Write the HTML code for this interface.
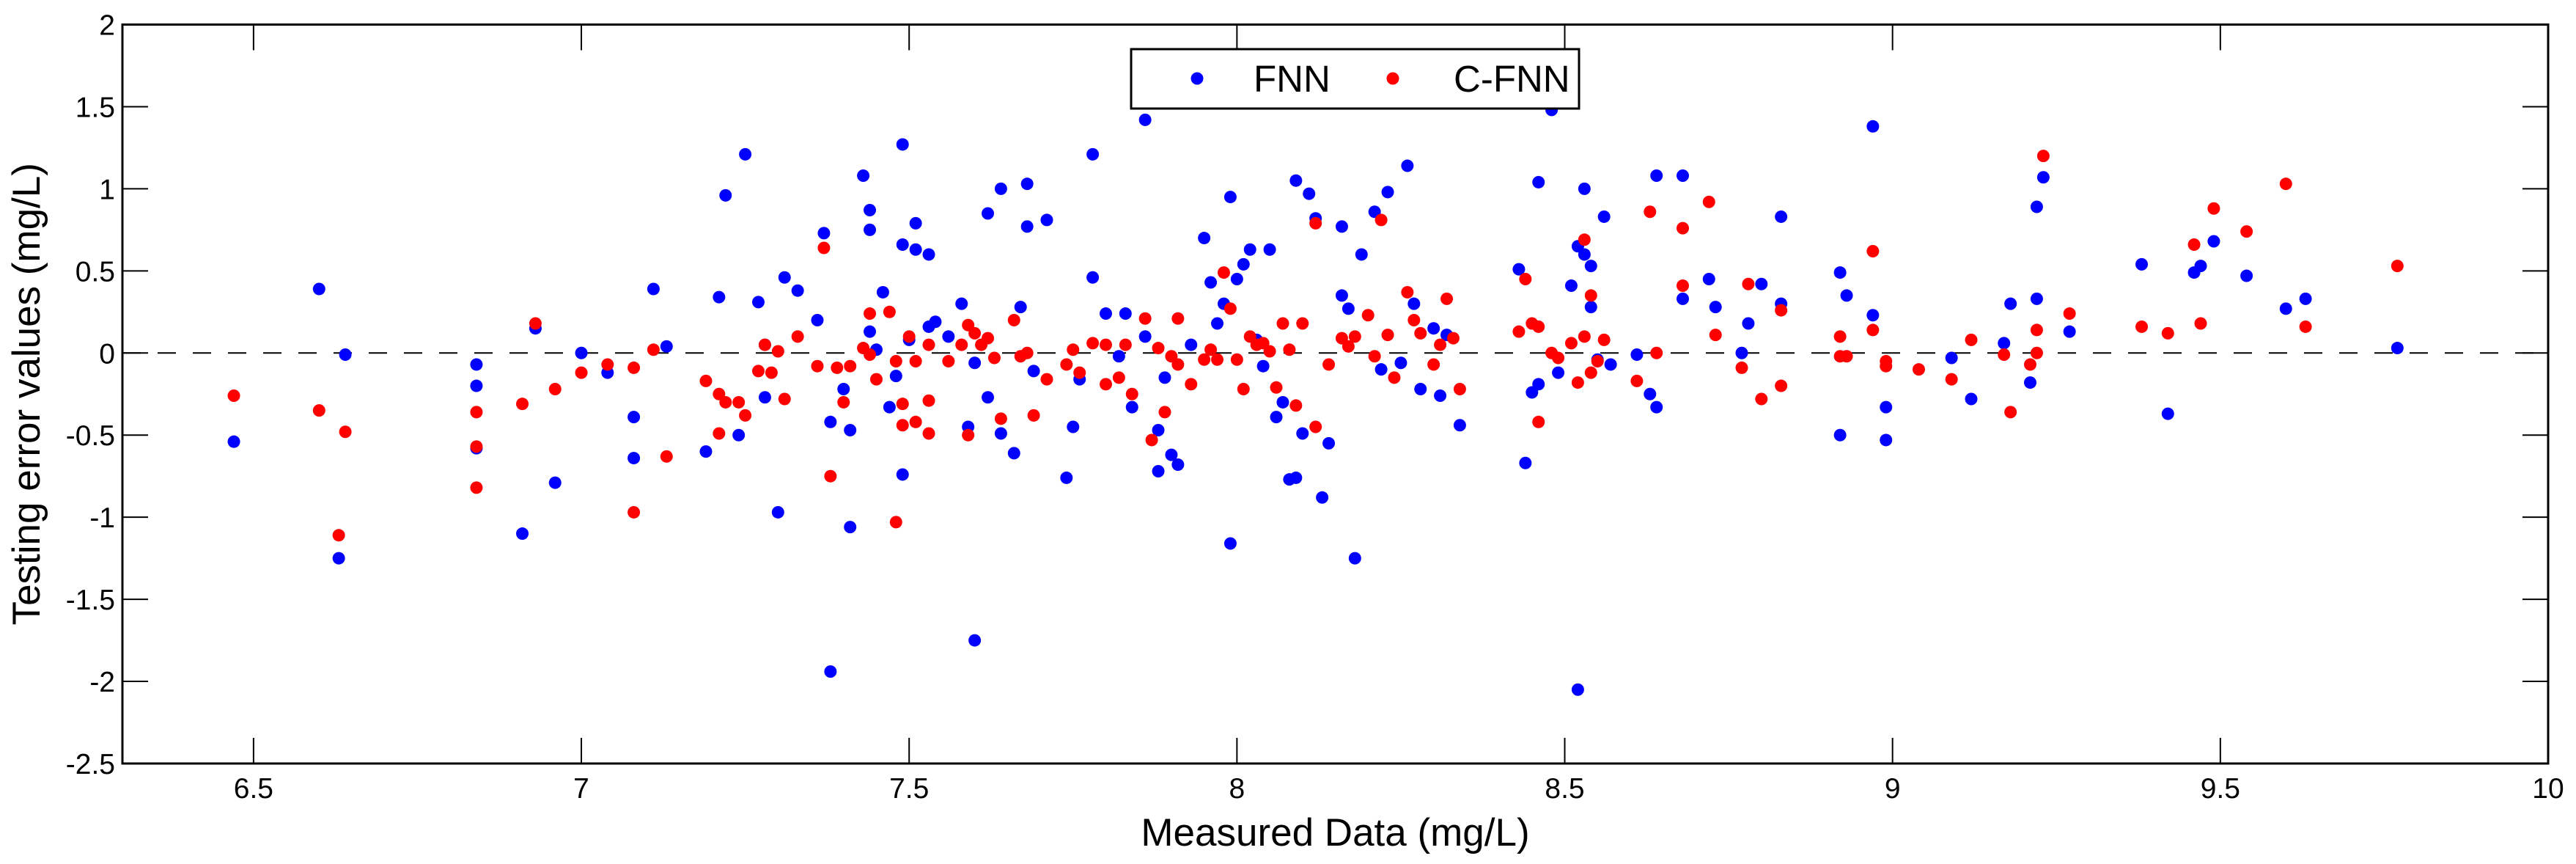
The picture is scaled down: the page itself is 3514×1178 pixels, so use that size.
<!DOCTYPE html>
<html><head><meta charset="utf-8"><style>
html,body{margin:0;padding:0;background:#fff;}
svg{display:block;font-family:"Liberation Sans",Arial,sans-serif;}
</style></head><body>
<svg id="chart" width="3514" height="1178" viewBox="0 0 3514 1178" xmlns="http://www.w3.org/2000/svg">
<rect x="0" y="0" width="3514" height="1178" fill="#fff"/>
<g id="grid"></g>
<g id="marks"></g>
<g id="axes"></g>
</svg>
<script>
const xTicks=[6.5,7,7.5,8,8.5,9,9.5,10];
const xTickLabels=["6.5","7","7.5","8","8.5","9","9.5","10"];
const yTicks=[2,1.5,1,0.5,0,-0.5,-1,-1.5,-2,-2.5];
const yTickLabels=["2","1.5","1","0.5","0","-0.5","-1","-1.5","-2","-2.5"];
const fnnX=[6.47,6.6,6.63,6.64,6.84,6.84,6.84,6.91,6.93,6.96,7.0,7.04,7.08,7.08,7.11,7.13,7.19,7.21,7.22,7.24,7.25,7.27,7.28,7.28,7.3,7.31,7.33,7.36,7.37,7.38,7.38,7.4,7.41,7.41,7.43,7.44,7.44,7.44,7.45,7.46,7.47,7.48,7.49,7.49,7.49,7.5,7.51,7.51,7.53,7.53,7.54,7.56,7.58,7.59,7.6,7.6,7.62,7.62,7.64,7.64,7.66,7.67,7.68,7.68,7.69,7.71,7.74,7.75,7.76,7.78,7.78,7.8,7.82,7.83,7.84,7.86,7.86,7.88,7.88,7.89,7.9,7.91,7.93,7.95,7.96,7.97,7.98,7.99,7.99,8.0,8.01,8.02,8.03,8.04,8.05,8.06,8.07,8.08,8.09,8.09,8.1,8.11,8.12,8.13,8.14,8.16,8.16,8.17,8.18,8.19,8.21,8.22,8.23,8.25,8.26,8.27,8.28,8.3,8.31,8.32,8.34,8.43,8.44,8.45,8.46,8.46,8.48,8.49,8.51,8.52,8.52,8.53,8.53,8.54,8.54,8.55,8.56,8.57,8.61,8.63,8.64,8.64,8.68,8.68,8.72,8.73,8.77,8.78,8.8,8.83,8.83,8.92,8.92,8.93,8.97,8.97,8.99,8.99,9.09,9.12,9.17,9.18,9.21,9.22,9.22,9.23,9.27,9.38,9.42,9.46,9.47,9.49,9.54,9.6,9.63,9.77];
const fnnY=[-0.54,0.39,-1.25,-0.01,-0.07,-0.2,-0.58,-1.1,0.15,-0.79,0.0,-0.12,-0.39,-0.64,0.39,0.04,-0.6,0.34,0.96,-0.5,1.21,0.31,0.05,-0.27,-0.97,0.46,0.38,0.2,0.73,-1.94,-0.42,-0.22,-1.06,-0.47,1.08,0.87,0.75,0.13,0.02,0.37,-0.33,-0.14,-0.74,1.27,0.66,0.08,0.79,0.63,0.6,0.16,0.19,0.1,0.3,-0.45,-0.06,-1.75,0.85,-0.27,1.0,-0.49,-0.61,0.28,1.03,0.77,-0.11,0.81,-0.76,-0.45,-0.16,1.21,0.46,0.24,-0.02,0.24,-0.33,1.42,0.1,-0.47,-0.72,-0.15,-0.62,-0.68,0.05,0.7,0.43,0.18,0.3,0.95,-1.16,0.45,0.54,0.63,0.08,-0.08,0.63,-0.39,-0.3,-0.77,1.05,-0.76,-0.49,0.97,0.82,-0.88,-0.55,0.77,0.35,0.27,-1.25,0.6,0.86,-0.1,0.98,-0.06,1.14,0.3,-0.22,0.15,-0.26,0.11,-0.44,0.51,-0.67,-0.24,1.04,-0.19,1.48,-0.12,0.41,0.65,-2.05,0.6,1.0,0.28,0.53,-0.04,0.83,-0.07,-0.01,-0.25,-0.33,1.08,1.08,0.33,0.45,0.28,0.0,0.18,0.42,0.83,0.3,0.49,-0.5,0.35,1.38,0.23,-0.53,-0.33,-0.03,-0.28,0.06,0.3,-0.18,0.89,0.33,1.07,0.13,0.54,-0.37,0.49,0.53,0.68,0.47,0.27,0.33,0.03];
const cfnnX=[6.47,6.6,6.63,6.64,6.84,6.84,6.84,6.91,6.93,6.96,7.0,7.04,7.08,7.08,7.11,7.13,7.19,7.21,7.21,7.22,7.24,7.25,7.27,7.28,7.29,7.3,7.31,7.33,7.36,7.37,7.38,7.39,7.4,7.41,7.43,7.44,7.44,7.45,7.47,7.48,7.48,7.49,7.49,7.5,7.51,7.51,7.53,7.53,7.53,7.56,7.58,7.59,7.59,7.6,7.61,7.62,7.63,7.64,7.66,7.67,7.68,7.69,7.71,7.74,7.75,7.76,7.78,7.8,7.8,7.82,7.83,7.84,7.86,7.87,7.88,7.89,7.9,7.91,7.91,7.93,7.95,7.96,7.97,7.98,7.99,8.0,8.01,8.02,8.03,8.04,8.05,8.06,8.07,8.08,8.09,8.1,8.12,8.12,8.14,8.16,8.17,8.18,8.2,8.21,8.22,8.23,8.24,8.26,8.27,8.28,8.3,8.31,8.32,8.33,8.34,8.43,8.44,8.45,8.46,8.46,8.48,8.49,8.51,8.52,8.53,8.53,8.54,8.54,8.55,8.56,8.61,8.63,8.64,8.68,8.68,8.72,8.73,8.77,8.78,8.8,8.83,8.83,8.92,8.92,8.93,8.97,8.97,8.99,8.99,9.04,9.09,9.12,9.17,9.18,9.21,9.22,9.22,9.23,9.27,9.38,9.42,9.46,9.47,9.49,9.54,9.6,9.63,9.77];
const cfnnY=[-0.26,-0.35,-1.11,-0.48,-0.36,-0.57,-0.82,-0.31,0.18,-0.22,-0.12,-0.07,-0.97,-0.09,0.02,-0.63,-0.17,-0.25,-0.49,-0.3,-0.3,-0.38,-0.11,0.05,-0.12,0.01,-0.28,0.1,-0.08,0.64,-0.75,-0.09,-0.3,-0.08,0.03,0.24,-0.01,-0.16,0.25,-0.05,-1.03,-0.44,-0.31,0.1,-0.05,-0.42,-0.29,0.05,-0.49,-0.05,0.05,0.17,-0.5,0.12,0.05,0.09,-0.03,-0.4,0.2,-0.02,0.0,-0.38,-0.16,-0.07,0.02,-0.12,0.06,0.05,-0.19,-0.15,0.05,-0.25,0.21,-0.53,0.03,-0.36,-0.02,0.21,-0.07,-0.19,-0.04,0.02,-0.04,0.49,0.27,-0.04,-0.22,0.1,0.05,0.06,0.01,-0.21,0.18,0.02,-0.32,0.18,-0.45,0.79,-0.07,0.09,0.04,0.1,0.23,-0.02,0.81,0.11,-0.15,0.37,0.2,0.12,-0.07,0.05,0.33,0.09,-0.22,0.13,0.45,0.18,-0.42,0.16,0.0,-0.03,0.06,-0.18,0.69,0.1,0.35,-0.12,-0.05,0.08,-0.17,0.86,0.0,0.41,0.76,0.92,0.11,-0.09,0.42,-0.28,0.26,-0.2,0.1,-0.02,-0.02,0.14,0.62,-0.08,-0.05,-0.1,-0.16,0.08,-0.01,-0.36,-0.07,0.0,0.14,1.2,0.24,0.16,0.12,0.66,0.18,0.88,0.74,1.03,0.16,0.53];

const L=167,R=3476,T=33.5,B=1041;
const X0=6.3,X1=10,Y0=-2.5,Y1=2;
function sx(v){return L+(v-X0)/(X1-X0)*(R-L);}
function sy(v){return B-(v-Y0)/(Y1-Y0)*(B-T);}
const NS="http://www.w3.org/2000/svg";
function mk(tag,attrs,parent){const e=document.createElementNS(NS,tag);for(const k in attrs)e.setAttribute(k,attrs[k]);parent.appendChild(e);return e;}
const grid=document.getElementById('grid'),marks=document.getElementById('marks'),axes=document.getElementById('axes');

const zl=mk('line',{x1:L,x2:R,y1:sy(0),y2:sy(0),stroke:'#000','stroke-width':2,'stroke-dasharray':'25,23'},grid);



function series(xs,ys,color,name){
  const g=mk('g',{},marks);
  
  
  for(let i=0;i<xs.length;i++){
    const c=mk('circle',{cx:sx(xs[i]),cy:sy(ys[i]),r:8.5,fill:color},g);
    
    
  }
}
series(fnnX,fnnY,'#0000ff','fnn');
series(cfnnX,cfnnY,'#ff0000','c-fnn');

const box=mk('rect',{x:L,y:T,width:R-L,height:B-T,fill:'none',stroke:'#000','stroke-width':3},axes);



xTicks.forEach((v,i)=>{
  const x=sx(v);
  mk('line',{x1:x,x2:x,y1:B,y2:B-35,stroke:'#000','stroke-width':2},axes);
  mk('line',{x1:x,x2:x,y1:T,y2:T+35,stroke:'#000','stroke-width':2},axes);
  const t=mk('text',{x:x,y:1088,'text-anchor':'middle','font-size':39,fill:'#000'},axes);
  t.textContent=xTickLabels[i];
  
  
});
yTicks.forEach((v,i)=>{
  const y=sy(v);
  mk('line',{x1:L,x2:L+35,y1:y,y2:y,stroke:'#000','stroke-width':2},axes);
  mk('line',{x1:R,x2:R-35,y1:y,y2:y,stroke:'#000','stroke-width':2},axes);
  const t=mk('text',{x:157,y:y+14,'text-anchor':'end','font-size':39,fill:'#000'},axes);
  t.textContent=yTickLabels[i];
  
  
});

const xl=mk('text',{x:(L+R)/2,y:1153,'text-anchor':'middle','font-size':53,fill:'#000'},axes);
xl.textContent='Measured Data (mg/L)';


const yl=mk('text',{x:0,y:0,'text-anchor':'middle','font-size':53,fill:'#000',transform:'translate(54,'+((T+B)/2)+') rotate(-90)'},axes);
yl.textContent='Testing error values (mg/L)';



const lg=mk('g',{},axes);


mk('rect',{x:1543,y:67,width:611,height:81,fill:'#fff',stroke:'#000','stroke-width':3},lg);
const e1=mk('g',{},lg);


mk('circle',{cx:1633,cy:107,r:8.5,fill:'#0000ff'},e1);
const t1=mk('text',{x:1710,y:125,'font-size':51,fill:'#000'},e1);t1.textContent='FNN';
const e2=mk('g',{},lg);


mk('circle',{cx:1900,cy:107,r:8.5,fill:'#ff0000'},e2);
const t2=mk('text',{x:1983,y:125,'font-size':51,fill:'#000'},e2);t2.textContent='C-FNN';
</script>
</body></html>
